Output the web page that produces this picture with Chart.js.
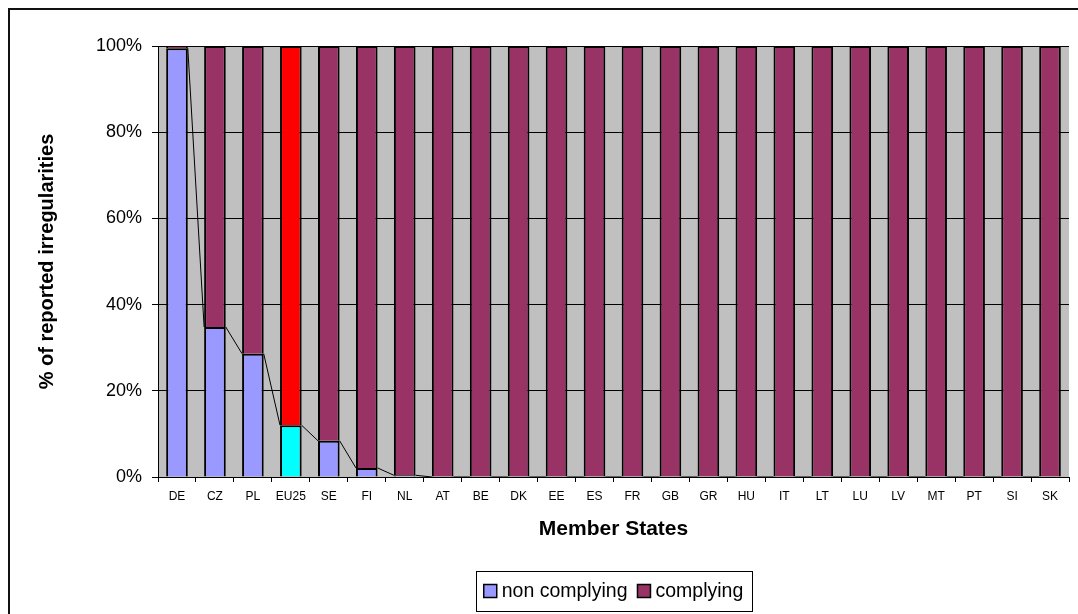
<!DOCTYPE html>
<html>
<head>
  <title>Reported irregularities by Member State</title>
  <script src="https://cdn.jsdelivr.net/npm/chart.js"></script>
  <style>
    body {
      margin: 0;
      background: #fff;
      font-family: Arial, "Liberation Sans", sans-serif;
    }
    #wrap {
      width: 1078px;
      height: 614px;
    }
  </style>
</head>
<body>

  <div id="wrap">
    <canvas id="irregChart" width="1078" height="614"></canvas>
  </div>

  <script>
    const memberStates = ["DE", "CZ", "PL", "EU25", "SE", "FI", "NL", "AT", "BE", "DK", "EE", "ES",
                          "FR", "GB", "GR", "HU", "IT", "LT", "LU", "LV", "MT", "PT", "SI", "SK"];
    const nonComplying = [99.5, 34.8, 28.6, 12.0, 8.4, 2.1, 0.4, 0, 0, 0, 0, 0,
                          0, 0, 0, 0, 0, 0, 0, 0, 0, 0, 0, 0];
    const complying = [0.5, 65.2, 71.4, 88.0, 91.6, 97.9, 99.6, 100, 100, 100, 100, 100,
                       100, 100, 100, 100, 100, 100, 100, 100, 100, 100, 100, 100];
    const yTicks = [0, 20, 40, 60, 80, 100];

    const FONT = "Arial, 'Liberation Sans', sans-serif";
    const nonColor = "#9999FF";
    const compColor = "#993366";
    // EU25 average highlighted in other colours
    const nonColors = memberStates.map(s => s === "EU25" ? "#00FFFF" : nonColor);
    const compColors = memberStates.map(s => s === "EU25" ? "#FF0000" : compColor);

    // grey plot area, outer frame
    const backdrop = {
      id: "backdrop",
      beforeDraw(chart) {
        const { ctx, chartArea: a } = chart;
        ctx.save();
        ctx.fillStyle = "#C0C0C0";
        ctx.fillRect(a.left, a.top, a.right - a.left, a.bottom - a.top);
        ctx.strokeStyle = "#111";
        ctx.lineWidth = 2;
        ctx.beginPath();
        ctx.moveTo(9, chart.height);
        ctx.lineTo(9, 9);
        ctx.lineTo(chart.width, 9);
        ctx.stroke();
        ctx.restore();
      }
    };

    // series lines joining the tops of the non complying bars
    const seriesLines = {
      id: "seriesLines",
      afterDatasetsDraw(chart) {
        const bars = chart.getDatasetMeta(0).data;
        const { ctx } = chart;
        ctx.save();
        ctx.strokeStyle = "#000";
        ctx.lineWidth = 1;
        ctx.beginPath();
        for (let i = 0; i < bars.length - 1; i++) {
          const a = bars[i], b = bars[i + 1];
          ctx.moveTo(a.x + a.width / 2, a.y);
          ctx.lineTo(b.x - b.width / 2, b.y);
        }
        ctx.stroke();
        ctx.restore();
      }
    };

    // Excel-like boxed legend under the axis title
    const boxLegend = {
      id: "boxLegend",
      afterDraw(chart) {
        const { ctx, chartArea: a } = chart;
        const sw = 13, gap = 5, itemGap = 10, padX = 8;
        ctx.save();
        ctx.font = "19.5px " + FONT;
        const items = chart.data.datasets.map(ds => ({
          label: ds.label, color: ds.legendColor, w: sw + gap + ctx.measureText(ds.label).width
        }));
        const total = items.reduce((s, it) => s + it.w, 0) + itemGap * (items.length - 1) + padX * 2;
        const boxH = 40, boxTop = 571;
        let x = (a.left + a.right) / 2 - total / 2;
        ctx.strokeStyle = "#000";
        ctx.lineWidth = 1;
        ctx.strokeRect(Math.round(x) + 0.5, boxTop + 0.5, Math.round(total), boxH);
        const cy = boxTop + boxH / 2;
        x += padX;
        items.forEach(it => {
          ctx.fillStyle = it.color;
          ctx.fillRect(x, cy - sw / 2, sw, sw);
          ctx.lineWidth = 1.5;
          ctx.strokeRect(x, cy - sw / 2, sw, sw);
          ctx.fillStyle = "#000";
          ctx.textBaseline = "middle";
          ctx.fillText(it.label, x + sw + gap, cy + 1);
          x += it.w + itemGap;
        });
        ctx.restore();
      }
    };

    new Chart(document.getElementById("irregChart"), {
      type: "bar",
      data: {
        labels: memberStates,
        datasets: [
          {
            label: "non complying",
            data: nonComplying,
            backgroundColor: nonColors,
            legendColor: nonColor,
            borderColor: "#000",
            borderWidth: 2,
            barPercentage: 0.57,
            categoryPercentage: 1
          },
          {
            label: "complying",
            data: complying,
            backgroundColor: compColors,
            legendColor: compColor,
            borderColor: "#000",
            borderWidth: 2,
            barPercentage: 0.57,
            categoryPercentage: 1
          }
        ]
      },
      options: {
        responsive: false,
        animation: false,
        layout: { padding: { left: 20, top: 46, right: 9, bottom: 60 } },
        plugins: {
          legend: { display: false },
          tooltip: { enabled: false }
        },
        scales: {
          x: {
            stacked: true,
            grid: { offset: true, drawOnChartArea: false, tickLength: 5, color: "#000" },
            border: { color: "#000", width: 1 },
            ticks: { color: "#000", font: { family: FONT, size: 12 }, padding: 7,
                     maxRotation: 0, autoSkip: false },
            title: { display: true, text: "Member States", color: "#000",
                     font: { family: FONT, size: 21, weight: "bold" }, padding: { top: 0, bottom: 12 } },
            afterFit(scale) { scale.height = 77; }
          },
          y: {
            stacked: true,
            min: 0,
            max: 100,
            grid: { color: "#000", tickLength: 6 },
            border: { color: "#000", width: 1 },
            afterBuildTicks(scale) { scale.ticks = yTicks.map(v => ({ value: v })); },
            ticks: { color: "#000", font: { family: FONT, size: 18 }, padding: 10,
                     callback: v => v + "%" },
            title: { display: true, text: "% of reported irregularities", color: "#000",
                     font: { family: FONT, size: 20, weight: "bold" }, padding: { top: 15, bottom: 0 } },
            afterFit(scale) { scale.width = 138; }
          }
        }
      },
      plugins: [backdrop, seriesLines, boxLegend]
    });
  </script>

</body>
</html>
